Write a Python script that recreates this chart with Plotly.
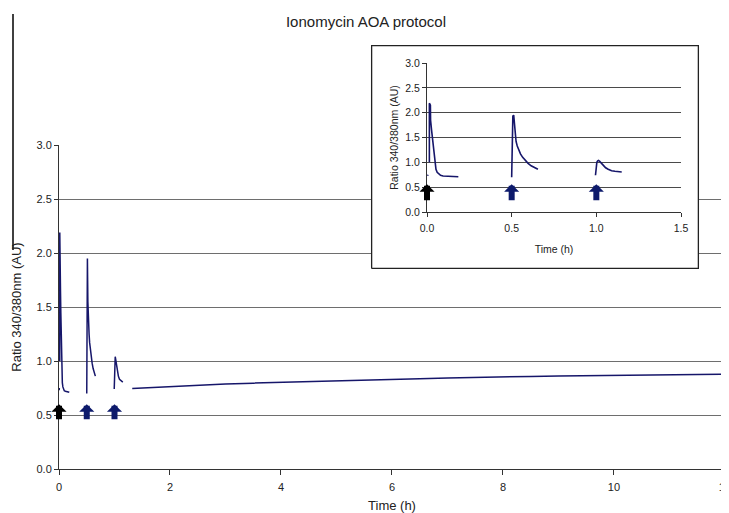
import plotly.graph_objects as go

# ---------------- data ----------------
# fura-2 ratio trace, split in recording segments (time in hours)
seg0_t = [0.003, 0.006]
seg0_r = [0.73, 0.75]

seg1_t = [0.014, 0.014, 0.020, 0.021, 0.027, 0.033, 0.038, 0.042, 0.047, 0.053,
          0.060, 0.070, 0.080, 0.095, 0.115, 0.140, 0.160, 0.185]
seg1_r = [1.00, 2.19, 2.15, 1.85, 1.65, 1.45, 1.25, 1.08, 0.95, 0.86,
          0.80, 0.76, 0.74, 0.725, 0.72, 0.715, 0.71, 0.71]

seg2_t = [0.500, 0.503, 0.507, 0.512, 0.516, 0.520, 0.526, 0.533, 0.542, 0.552,
          0.565, 0.580, 0.597, 0.615, 0.635, 0.655]
seg2_r = [0.70, 1.30, 1.93, 1.95, 1.75, 1.55, 1.42, 1.33, 1.25, 1.17,
          1.10, 1.04, 0.98, 0.93, 0.89, 0.86]

seg3_t = [0.995, 0.998, 1.003, 1.008, 1.013, 1.020, 1.030, 1.042, 1.055, 1.070,
          1.090, 1.110, 1.130, 1.150]
seg3_r = [0.74, 0.90, 1.00, 1.03, 1.04, 1.02, 0.98, 0.93, 0.89, 0.86,
          0.83, 0.82, 0.81, 0.805]

seg4_t = [1.32, 1.6, 2.0, 2.5, 3.0, 3.5, 4.0, 4.5, 5.0, 5.5, 6.0, 6.5, 7.0,
          7.5, 8.0, 8.5, 9.0, 9.5, 10.0, 10.5, 11.0, 11.5, 12.0]
seg4_r = [0.745, 0.752, 0.765, 0.777, 0.787, 0.795, 0.803, 0.810, 0.816, 0.822,
          0.828, 0.836, 0.843, 0.849, 0.855, 0.857, 0.860, 0.863, 0.865, 0.867,
          0.870, 0.874, 0.877]

# stimulus additions (arrows)
arrow_times = [0.0, 0.5, 1.0]
arrow_colors = ["#000000", "#0d1a6b", "#0d1a6b"]

main_x_ticks = [0, 2, 4, 6, 8, 10, 12]
inset_x_ticks = [0.0, 0.5, 1.0, 1.5]
y_ticks = [0.0, 0.5, 1.0, 1.5, 2.0, 2.5, 3.0]

title_text = "Ionomycin AOA protocol"
y_title = "Ratio 340/380nm (AU)"
x_title = "Time (h)"


def join(segs_t, segs_r):
    xs, ys = [], []
    for t, r in zip(segs_t, segs_r):
        xs += list(t) + [None]
        ys += list(r) + [None]
    return xs, ys


main_x, main_y = join([seg0_t, seg1_t, seg2_t, seg3_t, seg4_t],
                      [seg0_r, seg1_r, seg2_r, seg3_r, seg4_r])
inset_x, inset_y = join([seg0_t, seg1_t, seg2_t, seg3_t],
                        [seg0_r, seg1_r, seg2_r, seg3_r])

LINE = "#16166a"
FONT = "Liberation Sans, Arial, sans-serif"
OFF = 8                     # page body margin
W, H = 729 - OFF, 513 - OFF


def px_x(p):
    return (p - OFF) / W


def px_y(p):
    return 1 - (p - OFF) / H


fig = go.Figure()

# main trace
fig.add_trace(go.Scatter(x=main_x, y=main_y, mode="lines", connectgaps=False,
                         line=dict(color=LINE, width=1.5), xaxis="x", yaxis="y",
                         showlegend=False, hoverinfo="skip"))
# inset frame (white box)
fig.add_trace(go.Scatter(x=[0, 1, 1, 0, 0], y=[0, 0, 1, 1, 0], mode="lines",
                         fill="toself", fillcolor="white",
                         line=dict(color="#222222", width=1.3),
                         xaxis="x2", yaxis="y2", showlegend=False, hoverinfo="skip"))
# inset trace
fig.add_trace(go.Scatter(x=inset_x, y=inset_y, mode="lines", connectgaps=False,
                         line=dict(color=LINE, width=1.6), xaxis="x3", yaxis="y3",
                         showlegend=False, hoverinfo="skip"))

axfont = dict(family=FONT, size=11, color="#222222")
grid = "#6e6e6e"

fig.update_layout(
    width=W, height=H,
    margin=dict(l=0, r=0, t=0, b=0),
    paper_bgcolor="white", plot_bgcolor="rgba(0,0,0,0)",
    font=dict(family=FONT, color="#222222"),
    title=dict(text=title_text, x=px_x(366), xanchor="center", xref="paper",
               y=px_y(22), yanchor="middle", yref="container",
               font=dict(family=FONT, size=15, color="#222222")),
    xaxis=dict(domain=[px_x(59), px_x(725)], range=[0, 12.001], tickvals=main_x_ticks,
               ticks="outside", ticklen=5, tickcolor="#333333", showline=True,
               linecolor="#333333", linewidth=1, showgrid=False, zeroline=False,
               tickfont=axfont, automargin=False, anchor="y",
               ticklabelstandoff=3, ticklabeloverflow="allow",
               title=dict(text=x_title, font=dict(family=FONT, size=13, color="#222222"),
                          standoff=9)),
    yaxis=dict(domain=[px_y(469), px_y(145)], range=[0, 3], tickvals=y_ticks,
               tickformat=".1f", ticks="outside", ticklen=4, tickcolor="#333333",
               showline=True, linecolor="#333333", linewidth=1, showgrid=True,
               gridcolor=grid, gridwidth=1, zeroline=False, tickfont=axfont,
               automargin=False, anchor="x",
               title=dict(text=y_title, font=dict(family=FONT, size=13, color="#222222"),
                          standoff=11)),
    xaxis2=dict(domain=[px_x(370), px_x(700)], range=[-0.005, 1.005], visible=False,
                anchor="y2", fixedrange=True),
    yaxis2=dict(domain=[px_y(270), px_y(44)], range=[-0.007, 1.007], visible=False,
                anchor="x2", fixedrange=True),
    xaxis3=dict(domain=[px_x(427), px_x(681)], range=[0, 1.5], tickvals=inset_x_ticks,
                tickformat=".1f", ticks="outside", ticklen=4, tickcolor="#333333",
                showline=True, linecolor="#333333", showgrid=False, zeroline=False,
                tickfont=dict(family=FONT, size=10.5, color="#222222"),
                automargin=False, anchor="y3", ticklabelstandoff=2,
                title=dict(text=x_title, font=dict(family=FONT, size=10.5, color="#222222"),
                           standoff=13)),
    yaxis3=dict(domain=[px_y(212), px_y(63)], range=[0, 3], tickvals=y_ticks,
                tickformat=".1f", ticks="outside", ticklen=4, tickcolor="#333333",
                showline=True, linecolor="#333333", showgrid=True, gridcolor="#4a4a4a",
                zeroline=False, tickfont=dict(family=FONT, size=10.5, color="#222222"),
                automargin=False, anchor="x3",
                title=dict(text=y_title, font=dict(family=FONT, size=10.5, color="#222222"),
                           standoff=4)),
)

# decorative frame lines
fig.add_shape(type="line", xref="x domain", yref="y domain", x0=1, x1=1, y0=0, y1=1,
              line=dict(color="#a8a8a8", width=1))
fig.add_shape(type="line", xref="paper", yref="paper", x0=px_x(13), x1=px_x(13),
              y0=px_y(250), y1=px_y(14), line=dict(color="#000000", width=1.5))

# stimulus arrows (pixel-sized block arrows)
for t, c in zip(arrow_times, arrow_colors):
    fig.add_annotation(x=t, y=0.60, xref="x", yref="y", ax=0, ay=17, text=" ",
                       showarrow=True, arrowhead=1, arrowsize=0.42, arrowwidth=6,
                       arrowcolor=c, font=dict(size=1))
    fig.add_annotation(x=t, y=0.56, xref="x3", yref="y3", ax=0, ay=18, text=" ",
                       showarrow=True, arrowhead=1, arrowsize=0.42, arrowwidth=6,
                       arrowcolor=c, font=dict(size=1))

fig.write_html("out.html")
